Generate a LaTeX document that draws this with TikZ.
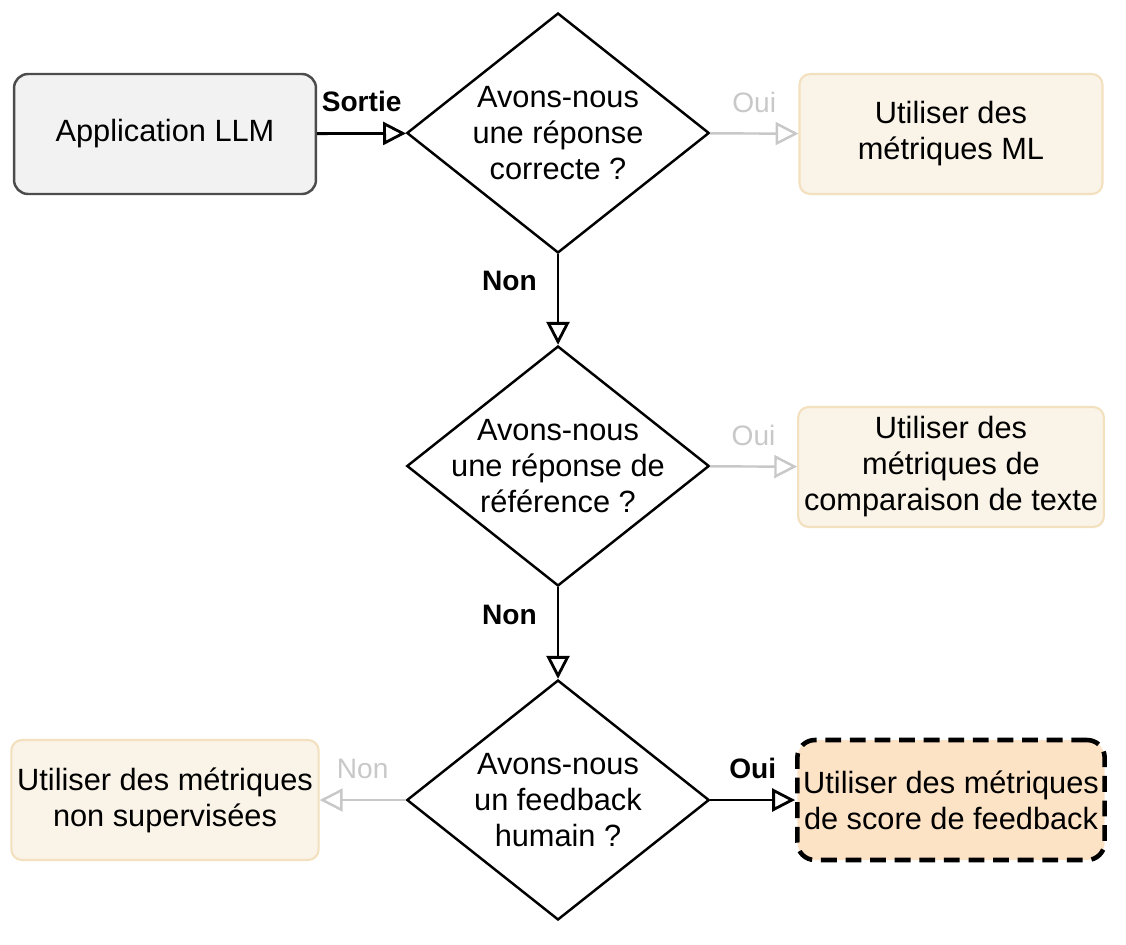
\documentclass[tikz,border=0pt]{standalone}
\usepackage{fontspec}
\setmainfont{Liberation Sans}
\usetikzlibrary{shapes.geometric,arrows.meta}
\definecolor{boxfill}{HTML}{FAF3E8}
\definecolor{boxline}{HTML}{F3E0BE}
\definecolor{hotfill}{HTML}{FDE3C6}
\definecolor{greyline}{HTML}{C8C8C8}
\tikzset{
  every node/.style={font=\fontsize{17.5}{20.5}\selectfont},
  dia/.style={diamond,draw=black,line width=1.4pt,fill=white,inner sep=0pt,minimum width=6.05cm,minimum height=4.8cm,label={[align=center]center:#1}},
  res/.style={rectangle,rounded corners=6pt,draw=boxline,line width=1.2pt,fill=boxfill,minimum width=6.06cm,minimum height=2.4cm,align=center},
  arr/.style={-{Triangle[open,length=13pt,width=13pt]},line width=1.6pt,draw=black},
  garr/.style={-{Triangle[open,length=13pt,width=13pt]},line width=1.4pt,draw=greyline},
  lab/.style={font=\fontsize{16}{18}\selectfont\bfseries},
  glab/.style={font=\fontsize{16}{18}\selectfont,text=greyline},
}
\begin{document}
\begin{tikzpicture}[x=0.02cm,y=-0.02cm]
\useasboundingbox (0,0) rectangle (1126,944);
\node[rectangle,rounded corners=8pt,draw=black!70,line width=1.4pt,fill=black!5,minimum width=6.04cm,minimum height=2.4cm] (app) at (165,134) {Application LLM};
\node[dia={Avons-nous\\une réponse\\correcte ?}] (d1) at (558,133) {};
\node[dia={Avons-nous\\une réponse de\\référence ?}] (d2) at (558,466) {};
\node[dia={Avons-nous\\un feedback\\humain ?}] (d3) at (558,800) {};
\node[res] (r1) at (951,134) {Utiliser des\\métriques ML};
\node[res] (r2) at (951,467) {Utiliser des\\métriques de\\comparaison de texte};
\node[res] (r3) at (165,800) {Utiliser des métriques\\non supervisées};
\node[res,draw=black,dashed,dash pattern=on 9pt off 5pt,line width=2.6pt,fill=hotfill,rounded corners=10pt] (r4) at (951,800) {Utiliser des métriques\\de score de feedback};
\draw[arr] (app) -- (d1) node[lab,midway,above=8pt] {Sortie};
\draw[garr] (d1) -- (r1) node[glab,midway,above=8pt] {Oui};
\draw[arr] (d1) -- (d2) node[lab,pos=0.3,left=8pt] {Non};
\draw[garr] (d2) -- (r2) node[glab,midway,above=8pt] {Oui};
\draw[arr] (d2) -- (d3) node[lab,pos=0.3,left=8pt] {Non};
\draw[garr] (d3) -- (r3) node[glab,midway,above=8pt] {Non};
\draw[arr] (d3) -- (r4) node[lab,midway,above=8pt] {Oui};
\end{tikzpicture}
\end{document}
